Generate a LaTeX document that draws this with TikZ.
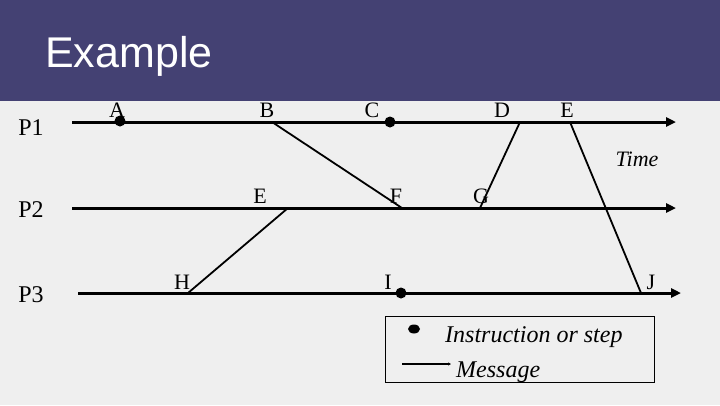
\documentclass[tikz,border=0pt]{standalone}
\usepackage{fontspec}
\setmainfont{Liberation Serif}
\newfontfamily\titlefont{Liberation Sans}
\usetikzlibrary{arrows.meta,positioning,shapes.geometric}

\definecolor{headerblue}{RGB}{68,65,115}
\definecolor{slidegray}{RGB}{239,239,239}

\begin{document}
\begin{tikzpicture}[x=1pt, y=-1pt,
    timeline/.style={line width=3pt, -{Triangle[length=10pt,width=9pt]}},
    msg/.style={line width=1.8pt},
    evt/.style={circle, fill=black, inner sep=0pt, minimum size=11pt},
    proc/.style={font=\fontsize{24}{24}\selectfont, anchor=base, inner sep=0pt},
    lbl/.style={font=\fontsize{22}{22}\selectfont, anchor=base, inner sep=0pt},
    note/.style={font=\fontsize{24}{24}\selectfont\itshape, anchor=base west, inner sep=0pt}
]
% slide background and header
\fill[slidegray] (0,0) rectangle (720,405);
\fill[headerblue] (0,0) rectangle (720,101);
\node[text=white, font=\titlefont\fontsize{43}{43}\selectfont, anchor=base west, inner sep=0pt] (title) at (45,67) {Example};

% processes
\node[proc] (P1) at (31,135) {P1};
\node[proc] (P2) at (31,217) {P2};
\node[proc] (P3) at (31,302) {P3};

\coordinate (s1) at (72,122);  \coordinate (e1) at (676,122);
\coordinate (s2) at (72,208);  \coordinate (e2) at (676,208);
\coordinate (s3) at (78,293);  \coordinate (e3) at (681,293);
\draw[timeline] (s1) -- (e1);
\draw[timeline] (s2) -- (e2);
\draw[timeline] (s3) -- (e3);

% events on P1
\coordinate (b) at (272,122);
\coordinate (d) at (520,122);
\coordinate (e) at (570,122);
\node[evt] (a) at (120,121) {};
\node[evt] (c) at (390,122) {};
% events on P2
\coordinate (e') at (288,208);
\coordinate (f) at (402,208);
\coordinate (g) at (480,208);
% events on P3
\coordinate (h) at (188,293);
\coordinate (j) at (641,293);
\node[evt] (i) at (401,293) {};

% labels
\node[lbl] (lA) at (117,117) {A};
\node[lbl] (lB) at (267,117) {B};
\node[lbl] (lC) at (372,117) {C};
\node[lbl] (lD) at (502,117) {D};
\node[lbl] (lE) at (567,117) {E};
\node[lbl] (lE2) at (260,203) {E};
\node[lbl] (lF) at (396,203) {F};
\node[lbl] (lG) at (481,203) {G};
\node[lbl] (lH) at (182,289) {H};
\node[lbl] (lI) at (388,289) {I};
\node[lbl] (lJ) at (651,289) {J};
\node[lbl, font=\fontsize{22}{22}\selectfont\itshape] (time) at (637,166) {Time};

% messages
\draw[msg] (b) -- (f);
\draw[msg] (d) -- (g);
\draw[msg] (e) -- (j);
\draw[msg] (e') -- (h);

% legend
\draw[line width=0.8pt] (385,316) rectangle (654,382);
\node[evt, ellipse, minimum width=12pt, minimum height=9pt] (dotkey) at (414,329) {};
\coordinate (k1) at (402,364); \coordinate (k2) at (451,364);
\draw[line width=1.2pt, -{Triangle[length=3pt,width=3pt]}] (k1) -- (k2);
\node[note] (step) at (445,342) {Instruction or step};
\node[note] (message) at (456,377) {Message};
\end{tikzpicture}
\end{document}
